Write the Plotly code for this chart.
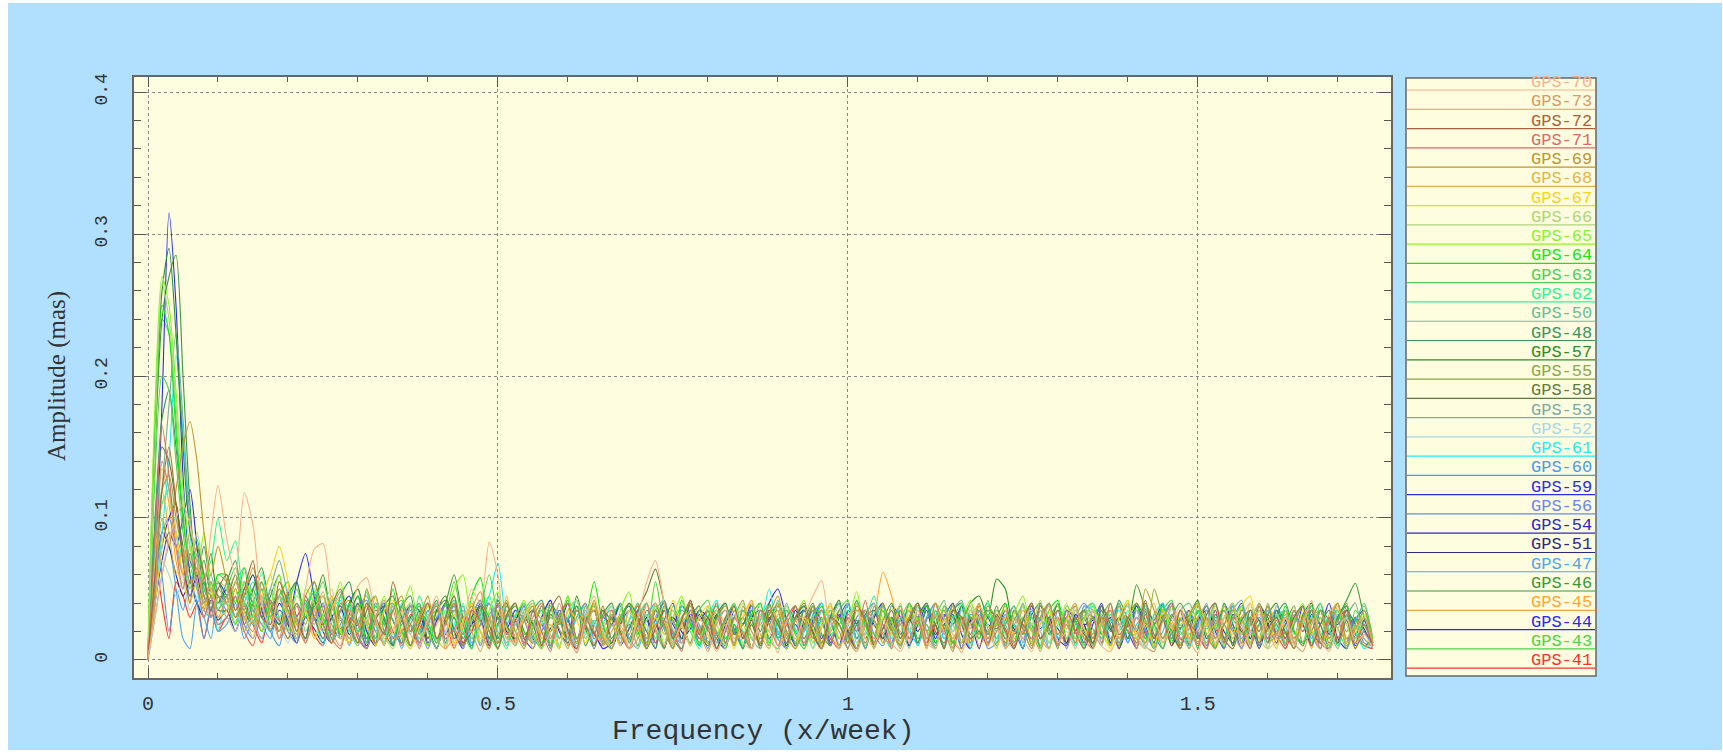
import plotly.graph_objects as go

# Frequency grid (x/week)
freq = [0, 0.01, 0.02, 0.03, 0.04, 0.05, 0.06, 0.07, 0.08, 0.09, 0.1,
        0.1125, 0.125, 0.1375, 0.15, 0.1625, 0.175, 0.1875, 0.2, 0.2125, 0.225, 0.2375,
        0.25, 0.2625, 0.275, 0.2875, 0.3, 0.3125, 0.325, 0.3375, 0.35, 0.3625, 0.375,
        0.3875, 0.4, 0.4125, 0.425, 0.4375, 0.45, 0.4625, 0.475, 0.4875, 0.5, 0.5125,
        0.525, 0.5375, 0.55, 0.5625, 0.575, 0.5875, 0.6, 0.6125, 0.625, 0.6375, 0.65,
        0.6625, 0.675, 0.6875, 0.7, 0.7125, 0.725, 0.7375, 0.75, 0.7625, 0.775, 0.7875,
        0.8, 0.8125, 0.825, 0.8375, 0.85, 0.8625, 0.875, 0.8875, 0.9, 0.9125, 0.925,
        0.9375, 0.95, 0.9625, 0.975, 0.9875, 1.0, 1.0125, 1.025, 1.0375, 1.05, 1.0625,
        1.075, 1.0875, 1.1, 1.1125, 1.125, 1.1375, 1.15, 1.1625, 1.175, 1.1875, 1.2,
        1.2125, 1.225, 1.2375, 1.25, 1.2625, 1.275, 1.2875, 1.3, 1.3125, 1.325, 1.3375,
        1.35, 1.3625, 1.375, 1.3875, 1.4, 1.4125, 1.425, 1.4375, 1.45, 1.4625, 1.475,
        1.4875, 1.5, 1.5125, 1.525, 1.5375, 1.55, 1.5625, 1.575, 1.5875, 1.6, 1.6125,
        1.625, 1.6375, 1.65, 1.6625, 1.675, 1.6875, 1.7, 1.7125, 1.725, 1.7375, 1.75]

# Amplitudes in micro-arcseconds (0.001 mas)
gps70 = [2,30,60,85,100,110,95,70,55,90,123,
 85,60,118,95,40,22,45,30,15,50,78,
 82,40,15,30,52,58,30,12,20,35,18,
 10,30,45,20,8,25,50,40,83,60,15,
 12,35,28,8,20,40,15,6,30,45,20,
 10,25,8,30,55,70,40,12,25,10,30,
 18,6,22,35,12,8,30,20,5,28,15,
 30,45,56,20,8,25,40,15,10,28,12,
 6,20,35,12,8,28,18,5,25,32,10,
 22,8,30,15,6,25,38,12,20,8,28,
 35,10,6,22,40,18,8,30,12,25,38,
 15,5,28,12,30,40,10,20,35,8,15,
 30,10,25,42,15,6,22,30,12,18,8]
gps73 = [0,40,140,120,80,60,90,70,40,55,30,
 45,60,30,20,55,35,15,40,25,12,30,
 48,20,10,35,25,8,30,42,15,20,38,
 12,25,40,8,18,35,20,6,28,40,15,
 30,10,22,38,12,30,18,5,25,35,10,
 20,32,8,15,40,22,10,28,12,30,20,
 6,25,35,12,20,8,30,38,10,18,28,
 12,30,8,22,35,15,6,25,40,18,10,
 28,12,35,20,8,30,15,25,38,10,20,
 30,8,18,35,22,6,28,12,30,40,15,
 8,25,35,12,20,30,10,6,28,38,15,
 22,10,30,15,35,20,8,25,40,12,18,
 30,12,6,25,35,15,28,10,22,30,12]
gps72 = [2,60,120,150,110,70,40,80,60,35,50,
 60,35,50,70,30,25,55,40,20,45,30,
 15,38,50,25,12,40,30,18,55,30,10,
 25,40,15,30,45,12,20,38,25,8,32,
 40,15,28,10,35,45,20,8,30,18,38,
 12,25,40,30,8,22,35,15,28,42,18,
 30,8,20,38,15,28,10,35,25,12,30,
 40,18,8,30,25,12,38,28,10,22,35,
 15,28,40,12,25,8,35,30,15,20,10,
 32,20,8,28,40,15,25,35,10,30,18,
 12,38,25,8,30,20,42,15,28,10,35,
 25,10,32,40,15,8,28,35,12,22,30,
 15,30,38,10,25,35,12,28,8,20,12]
gps71 = [0,90,165,130,80,50,75,55,30,45,25,
 30,45,20,10,35,42,15,28,40,12,30,
 38,15,8,30,25,40,12,20,35,10,25,
 8,30,38,15,22,10,35,28,8,40,18,
 28,12,35,20,6,32,40,15,25,10,30,
 35,18,8,25,40,12,28,20,6,35,15,
 22,40,12,30,18,8,35,25,10,30,38,
 10,25,35,15,8,30,20,42,12,25,8,
 35,15,28,10,40,22,6,30,18,38,12,
 20,32,8,25,15,38,28,10,35,20,8,
 30,12,40,18,25,8,32,15,28,40,10,
 25,18,8,35,12,30,22,8,38,15,28,
 10,35,20,28,8,30,15,38,12,25,10]
gps69 = [0,50,100,80,120,150,168,140,90,60,80,
 55,30,45,65,40,20,50,35,15,45,55,
 25,12,40,30,18,50,28,10,35,45,20,
 30,45,15,25,40,10,35,48,20,12,38,
 20,8,30,40,15,28,10,35,25,42,15,
 8,30,18,40,12,35,25,8,28,40,20,
 35,15,28,10,38,20,12,32,45,18,8,
 25,38,12,30,20,8,35,28,15,40,22,
 10,30,40,15,25,35,12,8,30,20,38,
 28,12,35,22,8,30,40,18,25,12,35,
 15,30,10,38,25,12,50,35,15,28,8,
 32,40,18,8,25,35,12,30,20,38,15,
 20,8,30,35,12,28,40,15,22,35,12]
gps68 = [2,70,120,90,60,80,50,65,40,30,45,
 40,55,35,15,45,30,20,50,28,12,35,
 45,20,30,12,38,25,45,15,22,35,10,
 28,40,15,8,35,22,40,12,30,18,45,
 15,30,8,28,40,15,25,10,38,20,12,
 35,22,8,30,15,40,28,10,25,35,18,
 12,28,38,15,25,8,30,20,40,12,28,
 30,12,25,40,15,22,8,35,28,12,20,
 40,15,28,8,32,20,38,12,25,30,10,
 28,35,12,20,40,15,8,30,22,38,15,
 8,25,35,15,30,10,28,40,12,20,35,
 18,30,8,25,38,15,28,10,35,22,8,
 35,12,28,20,8,32,40,15,25,10,12]
gps67 = [0,40,80,110,90,60,40,55,35,50,30,
 35,50,20,30,45,60,80,55,20,35,15,
 30,45,20,12,38,25,10,35,42,18,8,
 25,38,15,30,10,28,40,20,8,35,22,
 12,30,40,18,25,8,35,28,12,40,15,
 28,10,35,22,8,30,18,42,25,10,30,
 38,15,25,8,30,40,12,22,35,18,8,
 30,22,10,38,25,12,35,28,8,30,18,
 12,35,28,8,40,20,15,30,10,38,25,
 8,30,18,38,12,25,35,10,28,40,15,
 35,20,8,30,42,15,25,10,35,22,30,
 12,40,25,10,30,18,38,45,15,28,10,
 30,15,35,22,8,28,40,12,20,35,10]
gps66 = [5,150,265,240,180,110,70,90,60,40,55,
 50,30,55,25,40,60,30,20,45,35,15,
 38,50,20,12,35,28,45,18,8,30,40,
 15,28,40,10,32,22,45,15,30,8,35,
 25,40,12,30,18,8,35,42,20,12,30,
 38,15,28,8,40,22,12,35,25,10,30,
 20,35,10,28,40,15,25,8,32,38,12,
 30,8,22,40,15,28,35,10,25,18,38,
 12,30,38,20,8,35,25,12,40,28,10,
 35,18,8,30,25,42,12,28,15,35,22,
 10,28,40,15,30,8,35,22,12,38,25,
 30,12,25,38,10,28,18,40,15,8,32,
 22,38,12,30,20,8,35,25,15,30,10]
gps65 = [10,180,270,250,190,120,80,60,90,50,40,
 40,25,55,45,20,38,60,30,15,50,40,
 20,35,55,25,12,40,30,45,18,35,52,
 20,10,38,28,50,60,25,12,35,48,15,
 30,42,20,8,35,25,45,12,30,40,18,
 8,35,48,15,28,38,10,30,45,20,12,
 35,25,8,40,18,30,12,38,25,8,30,
 42,15,28,38,10,25,48,20,12,35,28,
 10,38,25,15,40,30,8,28,42,18,35,
 25,12,32,45,20,8,35,25,40,15,30,
 38,20,10,30,42,15,28,8,35,25,12,
 30,40,18,25,10,35,28,12,40,20,30,
 12,28,40,18,30,10,35,25,8,32,15]
gps64 = [8,170,250,230,160,100,70,85,55,40,60,
 60,40,65,30,50,25,45,55,20,35,48,
 25,40,18,30,45,12,38,25,50,20,10,
 35,25,12,40,30,18,45,58,20,8,30,
 40,18,25,35,10,30,42,15,28,55,25,
 12,30,40,20,8,35,28,15,42,25,10,
 30,38,15,25,8,32,40,12,28,35,18,
 8,25,38,20,30,12,42,25,10,35,28,
 35,15,28,40,12,25,8,38,30,15,32,
 20,40,12,30,25,8,35,42,15,28,10,
 30,18,35,10,28,40,15,25,38,12,30,
 15,35,25,8,40,20,30,12,35,28,18,
 38,20,10,30,35,15,28,40,12,25,10]
gps63 = [5,130,200,190,140,90,60,75,45,55,35,
 50,65,40,25,55,30,45,20,50,30,40,
 55,30,20,40,25,48,15,35,28,12,40,
 25,38,15,30,45,20,8,35,60,30,12,
 30,40,18,8,35,28,45,12,25,38,20,
 10,28,40,15,32,20,8,38,25,12,35,
 42,18,28,10,35,25,40,15,8,30,38,
 15,30,8,35,25,12,40,28,18,35,10,
 28,40,15,25,8,38,30,12,35,20,42,
 12,25,38,18,30,10,28,40,15,25,8,
 35,28,10,40,20,15,32,25,8,38,18,
 25,8,35,28,15,40,12,30,38,18,25,
 10,32,20,38,12,28,35,8,25,40,15]
gps62 = [3,60,110,120,90,70,50,80,60,70,100,
 70,84,45,40,62,35,30,45,20,38,50,
 30,15,45,35,20,50,25,12,40,30,18,
 45,28,12,35,20,40,15,30,45,20,8,
 32,40,15,25,38,10,30,42,18,28,12,
 35,22,8,30,40,15,28,12,38,25,10,
 28,35,12,40,20,8,32,25,15,38,22,
 10,30,40,18,25,35,12,28,45,20,8,
 38,20,30,12,35,8,28,40,15,25,32,
 15,30,8,38,22,30,12,25,35,10,28,
 40,12,28,20,35,15,8,32,38,18,25,
 10,35,22,40,15,28,38,12,25,8,30,
 35,18,28,12,40,22,10,30,18,35,12]
gps50 = [2,80,140,120,90,60,75,50,40,55,35,
 45,30,55,40,25,35,50,30,18,42,30,
 15,35,48,22,10,30,40,25,12,38,28,
 40,20,8,30,42,15,28,35,12,45,22,
 10,32,40,18,25,8,35,42,15,28,12,
 30,40,15,25,8,38,22,12,35,28,10,
 38,12,28,40,18,8,30,25,42,15,30,
 20,35,10,28,40,15,25,8,32,38,12,
 25,8,38,20,30,42,12,28,15,35,22,
 8,30,25,40,12,35,20,10,38,28,15,
 30,15,40,12,28,22,38,10,30,15,35,
 40,25,12,32,8,30,38,20,12,35,25,
 15,28,38,10,35,20,8,30,40,15,10]
gps48 = [3,100,170,190,150,100,70,60,80,50,40,
 55,70,35,50,30,45,60,25,40,30,55,
 35,20,45,55,25,15,40,30,10,38,45,
 18,30,42,12,35,25,8,40,30,15,38,
 28,10,35,42,20,30,12,38,25,8,32,
 40,18,25,10,35,28,42,15,8,30,38,
 12,30,38,22,8,35,20,40,15,28,10,
 35,25,12,30,40,15,28,8,38,22,30,
 15,40,28,10,32,20,38,25,12,35,18,
 30,8,35,25,15,40,22,12,30,38,20,
 10,35,20,42,28,12,35,18,8,30,40,
 28,15,30,8,38,25,12,35,28,15,32,
 40,20,12,35,25,8,30,38,15,28,12]
gps57 = [5,160,260,290,230,150,90,70,55,75,45,
 45,60,30,50,65,35,25,45,55,30,40,
 60,30,18,40,50,25,12,38,45,20,30,
 40,15,35,45,20,10,30,38,15,42,25,
 12,35,25,8,40,30,15,45,22,10,35,
 28,40,12,30,20,8,38,28,15,42,20,
 10,32,40,18,25,35,12,28,40,15,30,
 38,20,8,30,42,15,25,35,10,28,40,
 18,30,12,38,25,8,35,28,40,45,30,
 57,50,20,30,12,38,25,40,15,28,35,
 10,38,22,30,15,40,28,12,35,20,8,
 30,42,15,25,35,10,38,20,28,12,35,
 20,8,32,40,15,28,12,35,25,10,15]
gps55 = [2,70,120,130,100,75,55,70,45,35,50,
 40,25,50,35,20,42,30,15,38,25,45,
 30,12,35,42,20,28,10,35,40,15,25,
 38,22,8,30,40,15,28,35,12,25,42,
 15,28,38,10,32,22,8,35,28,40,15,
 25,10,35,28,15,40,22,8,30,38,18,
 35,20,12,30,42,15,25,10,38,28,12,
 22,38,28,10,30,18,40,25,8,35,20,
 10,30,40,15,25,35,8,30,22,40,15,
 30,15,28,38,10,25,40,18,30,12,35,
 18,35,10,28,40,20,12,50,30,15,25,
 8,30,38,15,25,10,35,28,15,40,20,
 32,12,25,38,18,8,30,35,12,25,10]
gps58 = [3,90,150,140,110,80,55,65,40,50,35,
 35,50,25,40,55,30,20,45,28,15,40,
 30,45,18,25,40,12,35,28,10,38,20,
 28,10,35,42,15,25,38,20,8,32,40,
 15,30,22,38,10,28,40,15,25,35,12,
 30,20,8,35,48,64,40,15,28,10,35,
 22,8,30,38,15,25,10,35,28,12,38,
 25,35,12,28,40,18,8,30,35,15,25,
 38,15,28,8,35,22,40,12,30,25,10,
 30,40,18,25,12,38,28,8,35,20,30,
 12,28,35,15,30,8,40,25,15,32,22,
 35,15,25,40,12,28,20,8,38,30,12,
 25,38,12,20,35,28,10,32,15,25,10]
gps53 = [2,60,120,180,230,170,100,70,50,60,40,
 40,55,65,45,30,50,70,45,25,40,35,
 20,42,30,15,35,45,20,12,38,28,10,
 32,40,15,25,38,10,30,42,20,35,15,
 25,12,35,28,8,40,22,15,32,38,12,
 30,38,15,25,10,35,42,20,8,30,25,
 12,28,40,18,30,15,8,35,25,40,18,
 35,20,10,32,25,40,15,28,12,38,22,
 8,30,38,15,25,10,35,42,18,28,12,
 35,25,12,40,20,30,8,35,28,15,38,
 22,10,32,25,40,15,28,12,38,22,8,
 30,38,15,28,10,35,42,18,25,12,30,
 15,25,38,10,30,20,35,12,28,38,15]
gps52 = [1,40,70,60,45,55,35,45,30,40,25,
 30,20,40,28,15,35,25,12,30,20,35,
 15,28,35,10,22,30,12,25,38,18,8,
 25,32,12,20,35,8,28,30,15,25,10,
 30,15,25,35,10,28,20,8,32,25,15,
 10,28,35,18,25,8,30,22,12,35,20,
 28,12,20,32,15,25,35,10,28,18,8,
 20,30,10,25,38,15,22,30,8,28,35,
 12,25,32,15,8,30,20,35,12,25,18,
 30,15,8,28,35,20,12,30,25,8,32,
 18,32,25,10,28,35,15,22,8,30,20,
 8,22,35,18,12,30,25,10,32,20,28,
 25,12,30,20,8,28,35,15,25,10,12]
gps61 = [1,40,90,140,215,160,90,50,30,45,20,
 45,25,40,55,30,20,45,35,15,38,30,
 10,35,42,20,28,12,38,30,15,40,25,
 15,30,40,12,25,35,8,30,45,68,25,
 12,35,25,8,40,28,15,30,38,10,25,
 38,15,28,40,12,25,35,10,30,20,8,
 30,42,15,25,10,35,28,50,20,12,30,
 25,8,35,28,15,40,20,10,32,38,15,
 30,22,10,38,25,15,35,28,8,30,40,
 15,32,25,8,35,20,40,15,28,10,30,
 38,12,28,35,15,25,8,32,40,20,12,
 28,40,15,22,35,10,30,25,15,38,22,
 10,30,38,15,25,35,12,28,20,8,12]
gps60 = [2,90,60,20,50,35,55,40,15,38,20,
 25,40,15,30,45,20,10,35,28,15,40,
 30,12,25,38,18,8,30,40,15,25,35,
 10,28,35,15,22,38,12,25,30,8,32,
 25,38,12,28,8,35,20,30,40,15,22,
 8,30,22,35,15,28,40,12,25,30,10,
 35,18,8,30,25,38,12,28,15,35,20,
 12,32,40,15,25,8,30,35,18,10,28,
 38,20,12,30,40,15,25,8,32,28,12,
 25,10,35,22,8,30,38,15,25,12,35,
 30,38,15,25,12,35,20,8,30,40,15,
 18,25,40,10,30,22,8,35,28,15,38,
 25,8,30,38,15,25,40,12,30,20,10]
gps59 = [2,60,180,315,250,130,60,40,55,30,45,
 40,25,55,30,45,20,35,30,55,75,45,
 20,12,35,45,25,10,30,40,15,28,38,
 12,25,40,18,30,8,35,28,15,40,22,
 35,15,8,30,42,20,12,35,25,10,30,
 25,40,15,28,10,35,22,8,38,30,12,
 30,8,25,38,15,30,12,40,50,28,10,
 20,35,28,10,30,40,15,25,8,35,28,
 12,30,40,20,8,32,25,38,12,28,35,
 30,15,25,8,38,22,30,12,35,20,8,
 25,38,12,30,20,8,35,28,40,15,30,
 12,28,35,15,40,25,8,30,20,38,15,
 35,20,10,32,25,40,15,8,28,35,12]
gps56 = [2,50,90,100,80,60,45,55,35,30,45,
 35,50,25,15,40,30,45,20,12,35,28,
 40,18,30,10,35,42,20,28,12,30,38,
 22,8,30,38,15,25,10,32,40,18,25,
 35,28,12,20,38,15,30,8,25,40,15,
 28,12,35,25,8,30,40,18,12,32,25,
 8,30,22,12,35,28,15,38,20,8,30,
 38,20,28,35,10,25,8,32,40,15,22,
 25,35,10,28,40,18,30,12,25,35,8,
 12,28,38,15,25,10,35,28,8,30,40,
 30,15,25,38,12,30,22,8,35,18,28,
 35,20,8,30,25,40,15,28,10,35,25,
 12,30,38,18,8,25,35,20,30,12,10]
gps54 = [1,40,80,100,110,70,45,60,35,50,40,
 50,30,45,60,35,20,40,28,15,42,30,
 25,40,15,32,45,20,10,35,28,12,38,
 35,12,28,40,20,8,30,42,15,25,10,
 28,38,15,10,32,25,40,12,28,35,18,
 8,25,35,18,30,12,28,40,15,22,35,
 30,15,8,35,25,40,12,30,20,8,35,
 22,38,15,28,10,35,25,8,30,40,12,
 35,10,30,40,18,25,12,38,28,8,30,
 15,30,22,8,35,28,40,15,10,32,25,
 28,40,12,30,15,38,25,8,30,18,35,
 10,25,38,20,8,32,28,15,40,25,12,
 30,15,25,35,12,8,30,38,18,28,10]
gps51 = [1,50,90,80,60,45,55,40,30,42,28,
 35,20,40,28,15,35,45,25,12,30,22,
 12,30,38,18,25,8,30,35,15,28,10,
 30,22,8,28,35,12,25,30,10,32,20,
 15,28,35,10,22,30,15,8,28,35,12,
 28,10,22,35,15,28,8,30,20,12,32,
 20,32,12,25,8,30,35,15,25,10,28,
 35,15,28,10,30,22,8,32,25,15,30,
 10,28,20,35,12,25,32,8,28,18,35,
 25,12,30,18,35,8,28,22,12,32,25,
 8,30,22,12,28,35,15,25,30,10,22,
 30,18,8,32,20,12,35,28,8,25,30,
 15,30,25,10,35,18,28,12,30,22,8]
gps47 = [0,30,60,80,50,15,8,40,30,15,45,
 30,45,20,35,25,15,40,30,12,35,25,
 40,18,28,10,35,25,15,38,28,8,30,
 20,35,12,28,40,18,25,10,32,38,15,
 32,10,25,38,15,30,22,8,35,25,12,
 25,38,15,8,30,40,18,28,12,35,22,
 12,28,35,20,10,32,25,38,15,8,30,
 35,22,8,30,40,12,28,18,35,25,10,
 28,35,15,25,10,38,20,30,12,35,25,
 10,25,38,12,30,20,8,35,28,15,38,
 35,12,28,40,15,25,32,10,20,38,12,
 22,35,10,28,15,38,25,12,30,20,35,
 12,30,20,35,25,10,32,28,15,30,10]
gps46 = [3,150,240,270,285,200,110,60,70,45,55,
 40,55,35,25,50,40,20,38,30,15,42,
 30,18,40,28,12,35,45,20,10,38,25,
 12,35,28,40,60,30,15,25,40,12,30,
 38,20,12,30,42,15,28,38,10,25,35,
 15,30,40,22,8,35,25,12,38,28,10,
 35,12,28,40,15,25,8,32,38,20,12,
 28,40,18,10,35,25,42,15,28,12,30,
 10,25,38,20,30,8,35,40,15,28,20,
 38,15,25,8,32,40,18,28,12,35,25,
 12,30,40,18,25,53,35,15,40,15,28,
 30,8,35,25,12,38,20,30,10,32,40,
 18,35,12,28,40,15,30,42,54,30,12]
gps45 = [2,80,135,110,70,50,80,60,35,50,30,
 35,50,28,40,20,35,45,25,15,38,30,
 20,35,45,15,28,38,12,25,40,18,30,
 38,15,25,40,12,30,35,10,28,40,20,
 10,30,38,15,25,8,35,28,40,15,22,
 32,20,8,30,40,15,28,35,12,25,38,
 15,35,25,10,30,42,18,8,32,25,12,
 30,12,35,28,8,25,40,15,30,62,45,
 20,40,12,30,25,8,35,20,28,40,15,
 25,38,15,28,10,35,22,40,12,30,20,
 8,28,35,15,30,40,12,25,35,18,8,
 35,22,10,38,25,15,30,40,12,28,35,
 12,30,25,8,35,20,38,12,28,15,10]
gps44 = [1,40,70,90,80,100,120,80,45,35,55,
 45,30,50,40,20,35,25,48,30,15,38,
 25,12,35,28,40,15,30,38,10,28,20,
 35,22,8,30,38,15,25,40,12,30,18,
 28,40,15,25,10,35,28,12,38,20,8,
 12,30,38,18,28,8,35,25,15,40,28,
 35,18,10,30,25,38,12,28,35,8,25,
 15,28,40,12,32,20,8,35,28,15,38,
 30,10,25,38,15,30,40,18,8,32,25,
 22,35,12,28,40,15,25,10,35,28,12,
 35,18,30,8,25,38,20,12,30,40,15,
 12,30,22,35,8,28,40,15,25,12,35,
 28,15,38,20,12,30,25,35,10,28,12]
gps43 = [4,140,240,230,170,100,65,80,50,40,60,
 55,35,45,60,30,50,25,40,55,20,35,
 45,25,15,38,50,20,30,12,35,42,20,
 28,40,15,30,55,25,10,35,28,15,40,
 20,35,42,12,30,25,45,15,28,38,10,
 35,15,28,40,20,55,25,12,35,28,15,
 25,40,12,30,35,8,28,40,18,30,12,
 38,20,30,10,35,42,15,28,12,38,25,
 12,35,25,40,15,28,8,35,30,15,38,
 28,10,35,22,40,15,30,38,12,25,35,
 40,25,12,30,38,15,28,8,35,42,20,
 15,38,28,10,30,40,18,25,35,12,30,
 35,12,28,40,15,30,22,8,35,25,12]
gps41 = [1,70,40,15,55,45,30,40,15,35,20,
 30,20,38,25,12,35,28,15,30,40,18,
 10,30,22,35,15,8,28,38,20,12,32,
 25,15,35,28,8,30,20,38,12,25,35,
 12,30,20,8,35,28,15,30,40,18,10,
 32,18,28,38,12,25,8,30,22,35,15,
 25,35,12,20,30,8,35,28,15,25,38,
 10,28,35,18,8,32,25,12,30,38,20,
 28,15,30,40,20,12,35,25,8,30,18,
 35,22,10,28,38,15,25,30,12,20,35,
 15,32,25,8,30,40,18,12,35,25,10,
 30,12,35,22,15,28,38,10,25,32,18,
 8,25,38,15,30,12,28,35,18,10,8]

# Legend order (top to bottom) and colours
series_names = ["GPS-70", "GPS-73", "GPS-72", "GPS-71", "GPS-69", "GPS-68", "GPS-67",
                "GPS-66", "GPS-65", "GPS-64", "GPS-63", "GPS-62", "GPS-50", "GPS-48",
                "GPS-57", "GPS-55", "GPS-58", "GPS-53", "GPS-52", "GPS-61", "GPS-60",
                "GPS-59", "GPS-56", "GPS-54", "GPS-51", "GPS-47", "GPS-46", "GPS-45",
                "GPS-44", "GPS-43", "GPS-41"]
series_values = [gps70, gps73, gps72, gps71, gps69, gps68, gps67, gps66, gps65, gps64,
                 gps63, gps62, gps50, gps48, gps57, gps55, gps58, gps53, gps52, gps61,
                 gps60, gps59, gps56, gps54, gps51, gps47, gps46, gps45, gps44, gps43, gps41]
series_colors = ["#F5B48C", "#D9986A", "#A5623C", "#D66A6A", "#BE9430", "#E2B448", "#F8D31C",
                 "#ADD67A", "#86F52A", "#10E81A", "#48D25A", "#2CF59A", "#66BE94", "#3A9462",
                 "#2A8C2A", "#8AA648", "#5C7A3C", "#7AAAA6", "#A6D8E6", "#18F0F0", "#4A98EC",
                 "#2A2AEE", "#6A86EC", "#2A2ABE", "#2A2A82", "#4CA6F0", "#3A963A", "#FFA436",
                 "#2A2AEE", "#4CD24C", "#FF3030"]

for nm, s in zip(series_names, series_values):
    assert len(s) == len(freq), (nm, len(s), len(freq))

W, H = 1723, 753
ML, MR, MT, MB = 134, 332, 77, 75
PW, PH = W - ML - MR, H - MT - MB


def px(x):
    return (x - ML) / PW


def py(y):
    return (H - MB - y) / PH


fig = go.Figure()
for name, vals, col in reversed(list(zip(series_names, series_values, series_colors))):
    fig.add_trace(go.Scatter(
        x=freq, y=[v / 1000 for v in vals], mode="lines", name=name,
        line=dict(color=col, width=1.1, shape="spline", smoothing=0.7),
        showlegend=False, hoverinfo="skip"))

shapes = [
    dict(type="rect", xref="paper", yref="paper", x0=px(8), x1=px(1722), y0=py(750), y1=py(3),
         fillcolor="#B0E0FE", line=dict(width=0), layer="below"),
    dict(type="rect", xref="paper", yref="paper", x0=0, x1=1, y0=0, y1=1,
         fillcolor="#FFFDE0", line=dict(width=0), layer="below"),
    dict(type="rect", xref="paper", yref="paper", x0=px(1406), x1=px(1596), y0=py(676), y1=py(78),
         fillcolor="#FFFDE0", line=dict(color="#666666", width=1.5), layer="below"),
]
annotations = []
for i, (name, col) in enumerate(zip(series_names, series_colors)):
    yl = 90 + 19.27 * i
    shapes.append(dict(type="line", xref="paper", yref="paper", x0=px(1407), x1=px(1595),
                       y0=py(yl), y1=py(yl), line=dict(color=col, width=1.2)))
    annotations.append(dict(xref="paper", yref="paper", x=px(1594), y=py(yl + 4),
                            xanchor="right", yanchor="bottom", text=name, showarrow=False,
                            font=dict(family="Liberation Mono", size=17, color=col)))

annotations.append(dict(xref="paper", yref="paper", x=px(763), y=py(731), xanchor="center",
                        yanchor="middle", text="Frequency (x/week)", showarrow=False,
                        font=dict(family="Liberation Mono", size=28, color="#333333")))
annotations.append(dict(xref="paper", yref="paper", x=px(57), y=py(376), xanchor="center",
                        yanchor="middle", text="Amplitude (mas)", showarrow=False, textangle=-90,
                        font=dict(family="Liberation Serif", size=25, color="#333333")))

fig.update_layout(
    width=W, height=H,
    margin=dict(l=ML, r=MR, t=MT, b=MB, pad=0),
    paper_bgcolor="white", plot_bgcolor="#FFFDE0",
    shapes=shapes, annotations=annotations,
    showlegend=False,
    xaxis=dict(range=[-0.02, 1.776], tickvals=[0, 0.5, 1, 1.5], ticktext=["0", "0.5", "1", "1.5"],
               ticks="inside", ticklen=10, tickcolor="#555555", tickwidth=1,
               showline=True, linecolor="#666666", linewidth=2, mirror="ticks",
               showgrid=True, gridcolor="#888888", griddash="dot", gridwidth=1, zeroline=False,
               minor=dict(dtick=0.1, tick0=0, ticks="inside", ticklen=5, tickcolor="#555555",
                          showgrid=False),
               tickfont=dict(family="Liberation Mono", size=20, color="#333333"),
               ticklabelstandoff=6),
    yaxis=dict(range=[-0.0127, 0.4106], tickvals=[0, 0.1, 0.2, 0.3, 0.4],
               ticktext=["0", "0.1", "0.2", "0.3", "0.4"], tickangle=-90,
               ticks="inside", ticklen=12, tickcolor="#555555", tickwidth=1,
               showline=True, linecolor="#666666", linewidth=2, mirror="ticks",
               showgrid=True, gridcolor="#888888", griddash="dot", gridwidth=1, zeroline=False,
               minor=dict(dtick=0.02, tick0=0, ticks="inside", ticklen=7, tickcolor="#555555",
                          showgrid=False),
               tickfont=dict(family="Liberation Mono", size=18, color="#333333"),
               ticklabelstandoff=18),
)

fig.write_html("out.html")
